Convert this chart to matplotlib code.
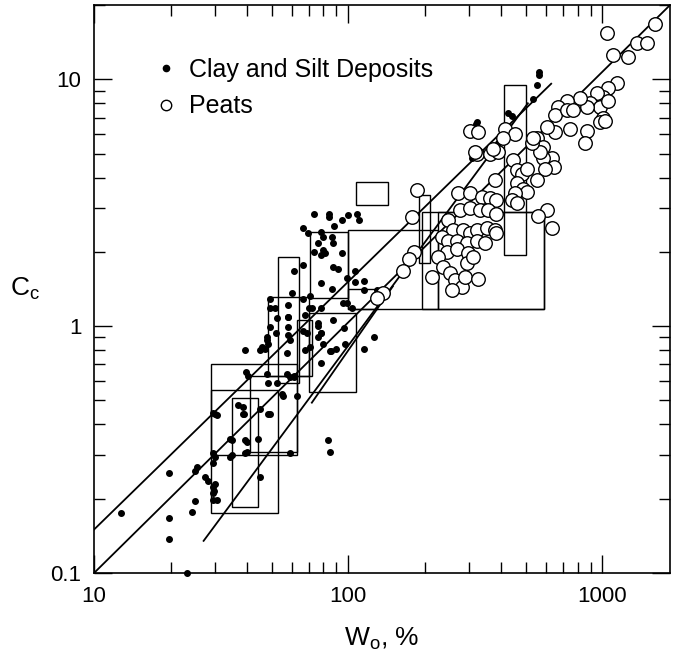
import numpy as np
import matplotlib.pyplot as plt
from matplotlib.lines import Line2D
from matplotlib.patches import Rectangle
from matplotlib.ticker import FixedLocator, LogLocator, NullFormatter, FixedFormatter

plt.rcParams['font.family'] = ['Liberation Sans', 'DejaVu Sans']
plt.rcParams['mathtext.fontset'] = 'custom'
plt.rcParams['mathtext.rm'] = 'Liberation Sans'

# ── Data ──────────────────────────────────────────────────────────────────────
# clay and silt deposits (w0 %, Cc)
clay_w = [12.8, 19.7, 19.7, 19.7, 23.2, 24.3, 25, 25, 25.5, 27.3, 28, 29.4, 29.4, 29.6, 29.4,
          29.4, 30, 35, 35, 39.3, 40, 39.3,
          29.4, 30.5, 39.3, 45, 48, 48.5, 39.5, 40.5, 37, 39, 48.5, 34.3, 40, 44.3, 34.3, 45,
          30, 29.4, 30.5, 59, 83.5, 84.5,
          49.4, 49.4, 58, 58, 58, 52, 57.5, 48, 48.5, 59, 61, 63, 55.5, 66.5, 69, 71, 78, 80,
          87.5, 67.7, 67.7, 76, 95.6, 86,
          73.5, 84, 84, 88, 95, 100, 108, 110, 66.5, 69.5, 78, 80, 86.5, 87, 76, 80, 73.5, 78,
          81, 94.6, 87, 91, 106.5, 61, 66.5, 78, 86.5, 99, 106, 115, 60, 71, 72, 78, 99, 104,
          115, 130, 51.5, 58, 52.5, 58, 59, 48, 46, 47, 49.4, 76, 78, 76, 85, 90, 97.5, 126,
          116, 78, 96, 66.5, 70, 57.5, 61, 52.5, 55, 30, 38.6, 38.6, 45, 49.5,
          565, 565, 555, 536, 427, 440, 322, 318, 307, 390]
clay_cc = [0.175, 0.254, 0.167, 0.137, 0.1, 0.176, 0.195, 0.26, 0.27, 0.245, 0.235, 0.28, 0.223,
           0.215, 0.197, 0.305, 0.295, 0.345, 0.30, 0.345, 0.34, 0.305,
           0.444, 0.436, 0.80, 0.80, 0.88, 0.85, 0.65, 0.63, 0.48, 0.44, 0.44, 0.35, 0.31, 0.35,
           0.295, 0.245, 0.23, 0.21, 0.197, 0.305, 0.345, 0.31,
           1.19, 1.29, 1.22, 1.09, 0.99, 0.94, 0.78, 0.64, 0.59, 0.62, 0.62, 0.52, 0.52, 0.96,
           0.94, 0.82, 0.94, 0.85, 1.06, 1.11, 0.8, 1.03, 1.24, 0.79,
           2.86, 2.86, 2.76, 2.55, 2.70, 2.81, 2.86, 2.70, 2.49, 2.38, 2.4, 2.29, 2.29, 2.18,
           2.18, 2.03, 1.99, 1.94, 1.98, 1.98, 1.73, 1.71, 1.68, 1.68, 1.77, 1.5, 1.41, 1.57,
           1.51, 1.53, 1.36, 1.33, 1.19, 1.19, 1.24, 1.18, 1.40, 1.40, 1.19, 1.09, 1.08, 0.92,
           0.88, 0.90, 0.82, 0.81, 0.99, 1.0, 0.94, 0.90, 0.79, 0.81, 0.85, 0.90, 0.81, 0.71,
           0.98, 1.29, 1.19, 0.64, 0.63, 0.59, 0.53, 0.44, 0.47, 0.44, 0.46, 0.44,
           10.7, 10.4, 9.5, 8.3, 7.28, 7.1, 6.7, 6.6, 4.8, 5.5]

# peats (w0 %, Cc)
peat_w = [1047, 1617, 1374, 1503, 1104, 1265, 1146, 1056, 1009, 955, 898, 982, 873, 818, 728,
          671, 653, 728, 767, 748, 873, 855, 1009, 982, 653, 607, 555, 535, 635, 586, 645, 597,
          586, 571, 530, 535, 555, 607, 635, 560, 415, 454, 407, 302, 325, 322, 362, 390, 379,
          446, 463, 484, 507, 463, 490, 507, 454, 440, 463, 271, 302, 337, 362, 383, 248, 276,
          302, 331, 356, 383, 259, 284, 302, 322, 352, 379, 234, 248, 269, 294, 322, 346, 383,
          246, 269, 297, 294, 310, 226, 237, 252, 264, 281, 256, 289, 325, 214, 187, 179, 181,
          174, 165, 137, 130, 372, 317, 1055, 1030]
peat_cc = [15.4, 16.7, 14.1, 14.1, 12.5, 12.3, 9.7, 9.2, 8.5, 8.8, 8.0, 7.7, 7.7, 8.4, 8.2,
           7.7, 7.2, 7.5, 7.5, 6.3, 6.2, 5.5, 6.95, 6.7, 6.1, 6.4, 5.8, 5.6, 4.8, 4.8, 4.4, 4.35,
           5.3, 5.1, 5.5, 5.8, 3.9, 2.95, 2.5, 2.8, 6.3, 6.0, 5.8, 6.2, 6.1, 5.0, 5.0, 5.1, 3.9,
           4.7, 4.3, 4.15, 4.35, 3.8, 3.6, 3.5, 3.45, 3.25, 3.15, 3.45, 3.45, 3.35, 3.3, 3.25,
           2.7, 2.95, 3.0, 2.95, 2.95, 2.85, 2.45, 2.45, 2.38, 2.45, 2.5, 2.45, 2.29, 2.22, 2.22,
           2.18, 2.22, 2.17, 2.38, 2.0, 2.06, 1.98, 1.8, 1.9, 1.9, 1.73, 1.64, 1.54, 1.44, 1.40,
           1.58, 1.56, 1.58, 3.56, 2.76, 2.0, 1.88, 1.68, 1.36, 1.30, 5.2, 5.1, 8.2, 6.8]

# correlation lines (end points)
line_a_w, line_a_cc = [10, 630], [0.15, 9.6]
line_b_w, line_b_cc = [10, 1850], [0.1, 20]
line_c_w, line_c_cc = [27, 510], [0.135, 8.0]
line_d_w, line_d_cc = [72, 150], [0.49, 1.45]

# data ranges from individual studies: (w low, w high, Cc low, Cc high)
box_w_lo = [29, 29, 35, 41, 53, 48.5, 63, 71, 70, 100, 100, 107, 190, 196, 225, 410]
box_w_hi = [63, 53, 44, 63, 64, 70, 72, 100, 107, 225, 130, 143, 210, 590, 590, 500]
box_cc_lo = [0.30, 0.175, 0.185, 0.31, 0.59, 0.63, 0.63, 1.3, 0.54, 1.17, 1.17, 3.1, 1.8,
             1.17, 1.17, 1.95]
box_cc_hi = [0.70, 0.55, 0.51, 0.63, 1.9, 1.31, 1.06, 2.4, 1.13, 2.45, 1.41, 3.85, 3.4,
             2.9, 2.9, 9.5]

# ── Plot ──────────────────────────────────────────────────────────────────────
fig = plt.figure(figsize=(6.73, 6.65), dpi=100)
ax = fig.add_axes([0.1397, 0.1383, 0.8559, 0.8541])
ax.set_xscale('log')
ax.set_yscale('log')
ax.set_xlim(10, 1850)
ax.set_ylim(0.1, 20)

for wl, wh, cl, ch in zip(box_w_lo, box_w_hi, box_cc_lo, box_cc_hi):
    ax.add_patch(Rectangle((wl, cl), wh - wl, ch - cl, fill=False,
                           edgecolor='black', linewidth=1.0, zorder=2))

for lw_, lc_ in [(line_a_w, line_a_cc), (line_b_w, line_b_cc),
                 (line_c_w, line_c_cc), (line_d_w, line_d_cc)]:
    ax.plot(lw_, lc_, color='black', linewidth=1.3, zorder=3)

ax.scatter(clay_w, clay_cc, s=16, color='black', zorder=4, clip_on=False)
ax.scatter(peat_w, peat_cc, s=95, facecolor='white', edgecolor='black',
           linewidth=1.0, zorder=5)

handles = [Line2D([], [], linestyle='none', marker='o', markersize=4.5, color='black'),
           Line2D([], [], linestyle='none', marker='o', markersize=7.5,
                  markerfacecolor='white', markeredgecolor='black', markeredgewidth=1.0)]
ax.legend(handles, ['Clay and Silt Deposits', 'Peats'], loc='upper left',
          bbox_to_anchor=(0.112, 0.907), frameon=False, fontsize=18,
          handlelength=0.6, handletextpad=0.6, labelspacing=0.5,
          borderpad=0, borderaxespad=0)

# ticks
ax.xaxis.set_major_locator(FixedLocator([10, 100, 1000]))
ax.xaxis.set_major_formatter(FixedFormatter(['10', '100', '1000']))
ax.yaxis.set_major_locator(FixedLocator([0.1, 1, 10]))
ax.yaxis.set_major_formatter(FixedFormatter(['0.1', '1', '10']))
for axis in (ax.xaxis, ax.yaxis):
    axis.set_minor_locator(LogLocator(base=10, subs=np.arange(2, 10)))
    axis.set_minor_formatter(NullFormatter())
ax.tick_params(which='both', direction='in', top=True, right=True,
               labelsize=16, width=1.0)
ax.tick_params(which='major', length=13, pad=9)
ax.tick_params(which='minor', length=8)
for sp in ax.spines.values():
    sp.set_linewidth(1.2)

ax.set_xlabel('W$_\\mathregular{o}$, %', fontsize=19, labelpad=14)
ax.set_ylabel('C$_\\mathregular{c}$', fontsize=19, rotation=0, labelpad=18, va='center')

fig.savefig('out.png', dpi=100)
